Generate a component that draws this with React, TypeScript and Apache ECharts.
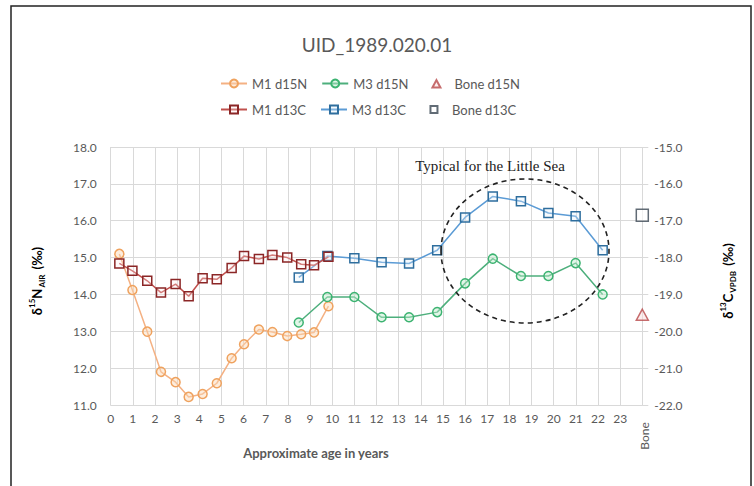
import React, { useEffect, useRef } from "react";
import * as echarts from "echarts";

const TITLE = "UID_1989.020.01";
const X_TICKS = ["0","1","2","3","4","5","6","7","8","9","10","11","12","13","14","15","16","17","18","19","20","21","22","23","Bone"];

const M1_AGE = [0.39, 0.98, 1.65, 2.27, 2.93, 3.52, 4.15, 4.79, 5.46, 6.02, 6.69, 7.3, 7.97, 8.6, 9.18, 9.83];
const M1_D15N = [15.1, 14.12, 12.99, 11.9, 11.62, 11.22, 11.3, 11.59, 12.27, 12.65, 13.05, 12.98, 12.87, 12.92, 12.97, 13.68];
const M1_D13C = [-18.16, -18.36, -18.63, -18.95, -18.72, -19.05, -18.56, -18.59, -18.28, -17.96, -18.04, -17.93, -18.0, -18.18, -18.21, -17.98];

const M3_AGE = [8.49, 9.78, 11.0, 12.23, 13.47, 14.74, 16.0, 17.25, 18.52, 19.76, 20.99, 22.21];
const M3_D15N = [13.24, 13.93, 13.93, 13.38, 13.38, 13.52, 14.3, 14.97, 14.5, 14.5, 14.85, 14.0];
const M3_D13C = [-18.54, -17.96, -18.02, -18.13, -18.16, -17.8, -16.91, -16.34, -16.47, -16.79, -16.88, -17.8];

const BONE_AGE = 24;
const BONE_D15N = 13.45;
const BONE_D13C = -16.85;

const FONT = "Lato";
const GREY = "#595959";

const TRI_ICON = "path://M0,0M26,10M9,9L13,1.5L17,9Z";
const SQ_ICON = "path://M0,0M26,10M9.5,1.5L16.5,1.5L16.5,8.5L9.5,8.5Z";

function zip(xs: number[], ys: number[]) {
  return xs.map((x, i) => [x, ys[i]]);
}

export default function App() {
  const ref = useRef<HTMLDivElement>(null);
  useEffect(() => {
    if (!ref.current) return;
    const chart = echarts.init(ref.current, null, { renderer: "svg" });
    const lineSeries = (name: string, data: number[][], yAxisIndex: number, symbol: string, lineColor: string, stroke: string, fill: string, z: number) => ({
      name,
      type: "line",
      yAxisIndex,
      data,
      symbol,
      symbolSize: 9,
      z,
      lineStyle: { color: lineColor, width: 1.5 },
      itemStyle: { color: fill, borderColor: stroke, borderWidth: 1.5 },
      emphasis: { disabled: true },
    });
    const legendCommon = {
      left: 215,
      itemWidth: 26,
      itemHeight: 10,
      itemGap: 14,
      textStyle: { fontFamily: FONT, fontSize: 13, color: GREY },
    };
    chart.setOption({
      animation: false,
      textStyle: { fontFamily: FONT },
      title: {
        text: TITLE,
        left: "center",
        top: 30,
        textStyle: { fontFamily: FONT, fontSize: 19, fontWeight: "normal", color: GREY },
      },
      legend: [
        { ...legendCommon, data: ["M1 d15N", "M3 d15N", { name: "Bone d15N", icon: TRI_ICON }], top: 72 },
        { ...legendCommon, data: ["M1 d13C", "M3 d13C", { name: "Bone d13C", icon: SQ_ICON }], top: 98 },
      ],
      grid: { left: 110.7, right: 111.7, top: 147, bottom: 81, containLabel: false },
      xAxis: {
        type: "value",
        min: 0,
        max: 24,
        interval: 1,
        axisLine: { show: true, lineStyle: { color: "#D9D9D9" } },
        axisTick: { show: false },
        splitLine: { show: true, lineStyle: { color: "#D9D9D9" } },
        axisLabel: {
          color: GREY,
          fontSize: 12,
          fontFamily: FONT,
          margin: 7,
          formatter: (v: number) => (v >= 24 ? "" : X_TICKS[Math.round(v)]),
        },
      },
      yAxis: [
        {
          type: "value",
          min: 11,
          max: 18,
          interval: 1,
          axisLine: { show: false },
          axisTick: { show: false },
          splitLine: { show: true, lineStyle: { color: "#D9D9D9" } },
          axisLabel: { color: GREY, fontSize: 12, fontFamily: FONT, margin: 14, formatter: (v: number) => v.toFixed(1) },
        },
        {
          type: "value",
          min: -22,
          max: -15,
          interval: 1,
          axisLine: { show: false },
          axisTick: { show: true, length: 6, lineStyle: { color: "#D9D9D9" } },
          splitLine: { show: false },
          axisLabel: { color: GREY, fontSize: 12, fontFamily: FONT, margin: 12, formatter: (v: number) => v.toFixed(1) },
        },
      ],
      series: [
        lineSeries("M1 d15N", zip(M1_AGE, M1_D15N), 0, "circle", "#F4B183", "#EFA25E", "rgba(250,215,180,0.45)", 3),
        lineSeries("M3 d15N", zip(M3_AGE, M3_D15N), 0, "circle", "#4DAF7C", "#3CB371", "rgba(190,235,205,0.45)", 3),
        {
          name: "Bone d15N",
          type: "scatter",
          yAxisIndex: 0,
          data: [[BONE_AGE, BONE_D15N]],
          symbol: "triangle",
          symbolSize: [12, 11],
          itemStyle: { color: "rgba(250,220,220,0.6)", borderColor: "#B8484A", borderWidth: 1.5 },
          z: 4,
        },
        lineSeries("M1 d13C", zip(M1_AGE, M1_D13C), 1, "rect", "#C0504D", "#8B2626", "rgba(255,235,235,0.3)", 5),
        lineSeries("M3 d13C", zip(M3_AGE, M3_D13C), 1, "rect", "#5B9BD5", "#2E6E9E", "rgba(225,240,250,0.3)", 4),
        {
          name: "Bone d13C",
          type: "scatter",
          yAxisIndex: 1,
          data: [[BONE_AGE, BONE_D13C]],
          symbol: "rect",
          symbolSize: 12,
          itemStyle: { color: "rgba(255,255,255,0.8)", borderColor: "#3A4652", borderWidth: 1.5 },
          z: 4,
        },
      ],
      graphic: [
        {
          type: "rect",
          shape: { x: 11, y: 6, width: 740, height: 500 },
          style: { fill: "none", stroke: "#222", lineWidth: 1.5 },
          silent: true,
        },
        {
          type: "ellipse",
          shape: { cx: 525, cy: 251, rx: 84, ry: 72 },
          style: { fill: "none", stroke: "#222", lineWidth: 1.6, lineDash: [5, 4] },
          silent: true,
          z: 10,
        },
        {
          type: "text",
          x: 490,
          y: 166,
          style: { text: "Typical for the Little Sea", font: "15px 'Liberation Serif'", fill: "#222", align: "center", verticalAlign: "middle" },
          z: 10,
        },
        {
          type: "text",
          x: 316,
          y: 453,
          style: { text: "Approximate age in years", font: "bold 13px Lato", fill: GREY, align: "center", verticalAlign: "middle" },
        },
        {
          type: "text",
          x: 644,
          y: 436,
          rotation: Math.PI / 2,
          style: { text: "Bone", font: "12px Lato", fill: GREY, align: "center", verticalAlign: "middle" },
        },
        {
          type: "text",
          x: 37,
          y: 281,
          rotation: Math.PI / 2,
          style: {
            text: "{m|δ}{sup|15}{m|N}{sub|AIR}{m| (‰)}",
            align: "center",
            verticalAlign: "middle",
            rich: {
              m: { fontFamily: FONT, fontSize: 13, fontWeight: "bold", color: GREY, lineHeight: 18 },
              sup: { fontFamily: FONT, fontSize: 8, fontWeight: "bold", color: GREY, verticalAlign: "top", lineHeight: 10 },
              sub: { fontFamily: FONT, fontSize: 8, fontWeight: "bold", color: GREY, verticalAlign: "bottom", lineHeight: 10, padding: [0, 2, 0, 1] },
            },
          },
        },
        {
          type: "text",
          x: 728,
          y: 281,
          rotation: Math.PI / 2,
          style: {
            text: "{m|δ}{sup|13}{m|C}{sub|VPDB}{m| (‰)}",
            align: "center",
            verticalAlign: "middle",
            rich: {
              m: { fontFamily: FONT, fontSize: 13, fontWeight: "bold", color: GREY, lineHeight: 18 },
              sup: { fontFamily: FONT, fontSize: 8, fontWeight: "bold", color: GREY, verticalAlign: "top", lineHeight: 10 },
              sub: { fontFamily: FONT, fontSize: 8, fontWeight: "bold", color: GREY, verticalAlign: "bottom", lineHeight: 10, padding: [0, 2, 0, 1] },
            },
          },
        },
      ],
    });
    return () => chart.dispose();
  }, []);
  return <div ref={ref} style={{ width: 754, height: 486, position: "absolute", left: 0, top: 0 }} />;
}
